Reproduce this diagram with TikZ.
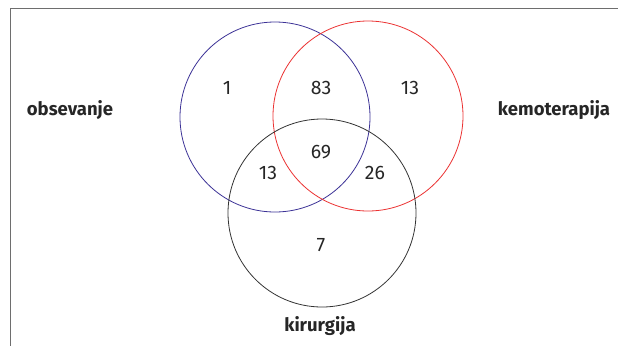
\documentclass[tikz,border=0pt]{standalone}
\usepackage{fontspec}
\setmainfont{Fira Sans}
\definecolor{vblue}{RGB}{60,50,150}
\definecolor{vred}{RGB}{235,50,50}
\definecolor{frame}{RGB}{110,110,110}
\begin{document}
\begin{tikzpicture}[x=1pt,y=-1pt,
  num/.style={font=\fontsize{19.5}{21}\selectfont, text=black!85},
  lab/.style={font=\bfseries\fontsize{18.5}{20}\selectfont, text=black!85},
  ring/.style={line width=0.8pt}]
\useasboundingbox (0,0) rectangle (618,346);
\coordinate (tl) at (10,8);
\coordinate (tr) at (618,8);
\coordinate (bl) at (10,346);
\draw[frame, line width=1pt] (tr) -- (tl) -- (bl);
\draw[ring, vblue] (275,117) circle (95);
\draw[ring, vred] (368,116) circle (95);
\draw[ring, black!80] (322,213) circle (94);
\node[num] (n1) at (227,88) {1};
\node[num] (n83) at (321,88) {83};
\node[num] (n13a) at (410,88) {13};
\node[num] (n69) at (321,152) {69};
\node[num] (n13b) at (268,173) {13};
\node[num] (n26) at (375,173) {26};
\node[num] (n7) at (321,245) {7};
\node[lab] (obs) at (70,110) {obsevanje};
\node[lab] (kem) at (554,110) {kemoterapija};
\node[lab] (kir) at (320,326) {kirurgija};
\end{tikzpicture}
\end{document}
